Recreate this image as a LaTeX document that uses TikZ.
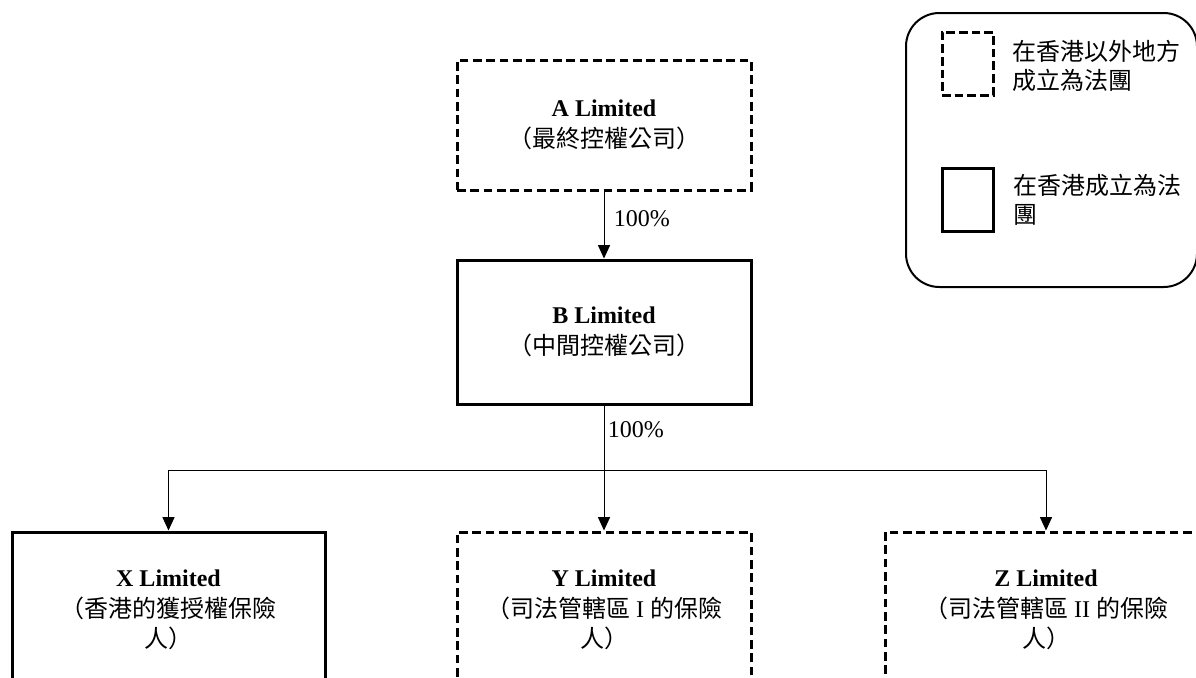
\documentclass[tikz,border=0pt]{standalone}
\usepackage{fontspec}
\setmainfont{Liberation Serif}
\newfontfamily\cjk{Noto Sans CJK TC}
\usetikzlibrary{arrows.meta,positioning}

\begin{document}
\begin{tikzpicture}[x=0.75pt,y=-0.75pt,
>={Triangle[width=9pt,length=10pt]}, line width=0.75pt,
font=\fontsize{18}{23}\selectfont]

\tikzstyle{entity}=[rectangle, draw, line width=2.25pt, text centered, align=center,
minimum width=220.5pt, inner sep=0pt]
\tikzstyle{overseas}=[entity, dash pattern=on 6.5pt off 3.5pt]
\tikzstyle{local}=[entity]
\tikzstyle{pct}=[anchor=west, inner sep=0pt]
\tikzstyle{sample}=[rectangle, draw, line width=2.25pt, minimum width=38.25pt, minimum height=47.25pt]
\tikzstyle{keytext}=[anchor=west, align=left, inner sep=0pt, font=\fontsize{18}{22}\selectfont\cjk]

\useasboundingbox (0,0) rectangle (1196,678);
\clip (0,0) rectangle (1196,678);

%holding companies
\node[overseas, minimum height=97.5pt]
(nA) at (604,125)
{\textbf{A Limited}\\{\cjk （最終控權公司）}};

\node[local, minimum height=108pt]
(nB) [below=50.25pt of nA]
{\textbf{B Limited}\\{\cjk （中間控權公司）}};

%insurers
\node[local, minimum width=234.75pt, minimum height=117pt]
(nX) at (168.5,610)
{\textbf{X Limited}\\{\cjk （香港的獲授權保險}\\{\cjk 人）}};

\node[overseas, minimum height=117pt]
(nY) at (604,610)
{\textbf{Y Limited}\\{\cjk （司法管轄區} I {\cjk 的保險}\\{\cjk 人）}};

\node[overseas, minimum width=241.5pt, minimum height=117pt]
(nZ) at (1046,610)
{\textbf{Z Limited}\\{\cjk （司法管轄區} II {\cjk 的保險}\\{\cjk 人）}};

\coordinate (split) at (604,470);

\draw[->] (nA) -- node[pct, pos=0.4, xshift=7pt] {100\%} (nB);
\draw (nB) -- node[pct, pos=0.37, xshift=2.5pt] {100\%} (split);
\draw[->] (split) -| (nX.north);
\draw[->] (split) -- (nY);
\draw[->] (split) -| (nZ.north);

%legend
\node[draw, rectangle, rounded corners=25pt, line width=1.5pt,
minimum width=218.25pt, minimum height=205.5pt]
(key) at (1051.5,150) {};

\node[sample, dash pattern=on 6.5pt off 3pt] (keyA) at (967.5,63.5) {};
\node[keytext] (keyAtext) at (1012,66) {在香港以外地方\\成立為法團};

\node[sample] (keyB) at (967.5,200) {};
\node[keytext] (keyBtext) at (1013,200) {在香港成立為法\\團};

\end{tikzpicture}
\end{document}
